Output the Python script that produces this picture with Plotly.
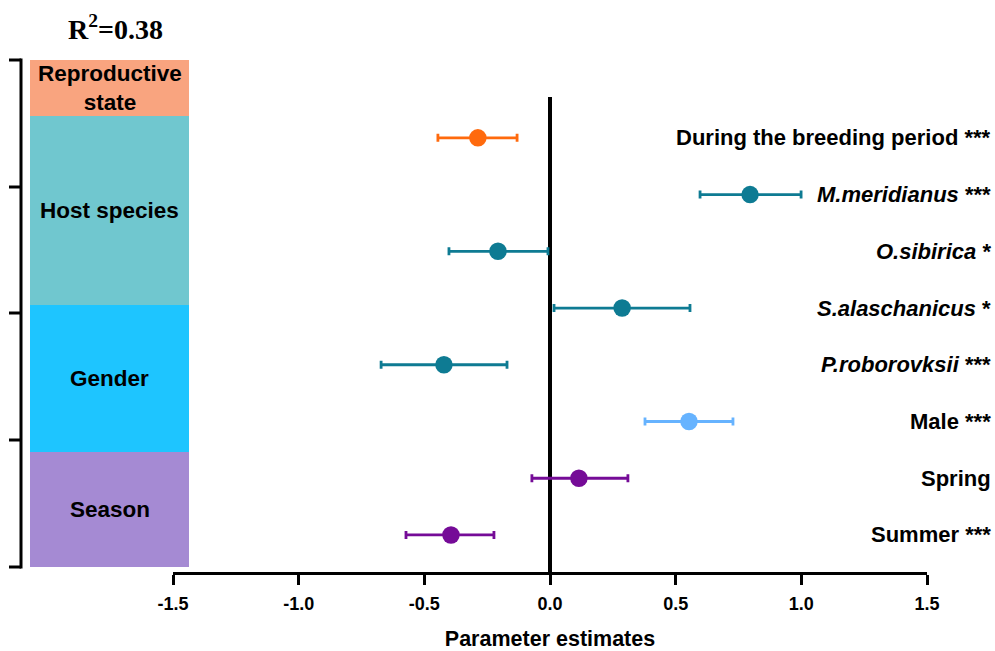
import plotly.graph_objects as go

W, H = 995, 651

# ---- data ----
terms = ["During the breeding period ***", "<i>M.meridianus</i> ***", "<i>O.sibirica</i> *",
         "<i>S.alaschanicus</i> *", "<i>P.roborovksii</i> ***", "Male ***", "Spring", "Summer ***"]
estimates = [-0.287, 0.796, -0.207, 0.287, -0.422, 0.553, 0.115, -0.394]
lower = [-0.446, 0.597, -0.402, 0.016, -0.672, 0.378, -0.072, -0.573]
upper = [-0.131, 0.999, -0.008, 0.557, -0.171, 0.728, 0.310, -0.223]
groups = ["rep", "host", "host", "host", "host", "gender", "season", "season"]

group_names = ["Reproductive<br>state", "Host species", "Gender", "Season"]
group_keys = ["rep", "host", "gender", "season"]
point_colors = {"rep": "#FF6A0D", "host": "#0E7B93", "gender": "#66B3FF", "season": "#750B97"}
box_colors = ["#F9A47F", "#70C7CF", "#1EC5FF", "#A58AD3"]

xticks = [-1.5, -1.0, -0.5, 0.0, 0.5, 1.0, 1.5]
xtick_text = ["<b>-1.5</b>", "<b>-1.0</b>", "<b>-0.5</b>", "<b>0.0</b>", "<b>0.5</b>", "<b>1.0</b>", "<b>1.5</b>"]

SANS = "Liberation Sans, Arial, sans-serif"

# ---- layout geometry (pixels) ----
L, R, T, B = 173, 927, 97, 572


def px_x(p):
    return (p - L) / (R - L)


def px_y(p):
    return (B - p) / (B - T)


n = len(terms)
ypos = [n - 1 - i for i in range(n)]

fig = go.Figure()
for g in group_keys:
    idx = [i for i in range(n) if groups[i] == g]
    fig.add_trace(go.Scatter(
        x=[estimates[i] for i in idx],
        y=[ypos[i] for i in idx],
        mode="markers",
        marker=dict(size=17.5, color=point_colors[g]),
        error_x=dict(type="data", symmetric=False,
                     array=[upper[i] - estimates[i] for i in idx],
                     arrayminus=[estimates[i] - lower[i] for i in idx],
                     color=point_colors[g], thickness=2.8, width=4),
        showlegend=False, hoverinfo="skip",
    ))

annotations = []
for i in range(n):
    annotations.append(dict(
        x=px_x(993), y=ypos[i], xref="paper", yref="y", text="<b>" + terms[i] + "</b>",
        xanchor="right", yanchor="middle", showarrow=False,
        font=dict(family=SANS, size=22, color="black")))

# group boxes
box_edges = [60, 116, 305, 452, 567]
shapes = []
for k in range(4):
    shapes.append(dict(type="rect", xref="paper", yref="paper",
                       x0=px_x(30), x1=px_x(189), y0=px_y(box_edges[k + 1]), y1=px_y(box_edges[k]),
                       fillcolor=box_colors[k], line=dict(width=0), layer="below"))
    annotations.append(dict(
        x=px_x(109.5), y=px_y((box_edges[k] + box_edges[k + 1]) / 2), xref="paper", yref="paper",
        text="<b>" + group_names[k] + "</b>", showarrow=False, xanchor="center", yanchor="middle",
        font=dict(family=SANS, size=22.5, color="black")))

# bracket on far left
bracket_ticks = [60, 187, 313, 440, 567]
shapes.append(dict(type="line", xref="paper", yref="paper", x0=px_x(21), x1=px_x(21),
                   y0=px_y(bracket_ticks[0] - 1.5), y1=px_y(bracket_ticks[-1] + 1.5),
                   line=dict(color="black", width=3)))
for t in bracket_ticks:
    shapes.append(dict(type="line", xref="paper", yref="paper", x0=px_x(9), x1=px_x(21),
                       y0=px_y(t), y1=px_y(t), line=dict(color="black", width=3)))

annotations.append(dict(
    x=px_x(115), y=px_y(27), xref="paper", yref="paper", text="<b>R<sup>2</sup>=0.38</b>",
    showarrow=False, xanchor="center", yanchor="middle",
    font=dict(family="Liberation Serif, Times New Roman, serif", size=28, color="black")))

fig.update_layout(
    width=W, height=H,
    margin=dict(l=L, r=W - R, t=T, b=H - B, pad=0),
    plot_bgcolor="white", paper_bgcolor="white",
    shapes=shapes, annotations=annotations,
    xaxis=dict(range=[-1.5, 1.5], tickvals=xticks, ticktext=xtick_text, automargin=False,
               showgrid=False, zeroline=True, zerolinecolor="black", zerolinewidth=3.5,
               showline=True, linecolor="black", linewidth=3,
               ticks="outside", ticklen=10, tickwidth=3, tickcolor="black",
               ticklabelstandoff=3,
               tickfont=dict(family=SANS, size=18, color="black"),
               title=dict(text="<b>Parameter estimates</b>", standoff=20,
                          font=dict(family=SANS, size=21.5, color="black"))),
    yaxis=dict(range=[-0.653, 7.72], showgrid=False, zeroline=False, showline=False,
               showticklabels=False, ticks="", automargin=False),
)

fig.write_html("out.html")
